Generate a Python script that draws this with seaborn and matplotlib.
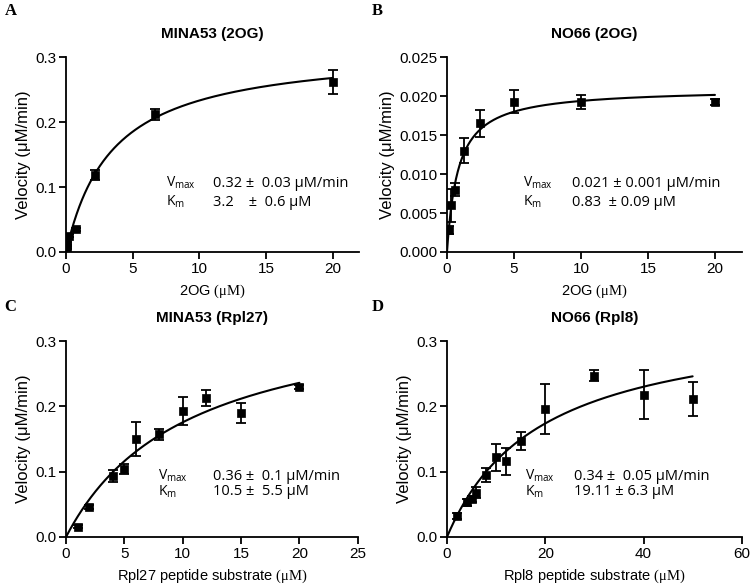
import numpy as np
import pandas as pd
import seaborn as sns
import matplotlib.pyplot as plt

# panel A: MINA53 with 2OG
a_x = [0.04, 0.08, 0.25, 0.75, 2.2, 6.67, 20]
a_y = [0.008, 0.012, 0.025, 0.035, 0.119, 0.212, 0.262]
a_err = [0.003, 0.003, 0.002, 0.002, 0.008, 0.008, 0.018]
a_fit = (0.315, 3.5)

# panel B: NO66 with 2OG
b_x = [0.16, 0.31, 0.625, 1.25, 2.5, 5, 10, 20]
b_y = [0.0028, 0.006, 0.008, 0.013, 0.0165, 0.0193, 0.0193, 0.0193]
b_err = [0.0005, 0.0021, 0.0008, 0.0016, 0.0017, 0.0015, 0.0009, 0.0004]
b_fit = (0.021, 0.83)

# panel C: MINA53 with Rpl27 peptide
c_x = [1, 2, 4, 5, 6, 8, 10, 12, 15, 20]
c_y = [0.016, 0.046, 0.093, 0.104, 0.150, 0.157, 0.193, 0.213, 0.190, 0.230]
c_err = [0.002, 0.003, 0.009, 0.008, 0.026, 0.009, 0.022, 0.012, 0.015, 0.003]
c_fit = (0.36, 10.5)

# panel D: NO66 with Rpl8 peptide
d_x = [2, 4, 5, 6, 8, 10, 12, 15, 20, 30, 40, 50]
d_y = [0.032, 0.053, 0.058, 0.068, 0.095, 0.122, 0.116, 0.147, 0.196, 0.247, 0.218, 0.212]
d_err = [0.004, 0.005, 0.004, 0.009, 0.011, 0.021, 0.021, 0.0135, 0.038, 0.008, 0.037, 0.026]
d_fit = (0.34, 19.11)

sns.set_style("ticks")
plt.rcParams['font.family'] = ['Liberation Sans', 'DejaVu Sans']
plt.rcParams['mathtext.fontset'] = 'custom'
plt.rcParams['mathtext.rm'] = 'Liberation Serif'
plt.rcParams['mathtext.sf'] = 'Open Sans'
for k in ['text.color', 'axes.labelcolor', 'xtick.color', 'ytick.color']:
    plt.rcParams[k] = 'black'

fig = plt.figure(figsize=(7.5, 5.84), dpi=100)
ax_a = fig.add_axes([0.088, 0.5685, 0.391, 0.3335])
ax_b = fig.add_axes([0.596, 0.5685, 0.393, 0.3335])
ax_c = fig.add_axes([0.088, 0.0805, 0.389, 0.3355])
ax_d = fig.add_axes([0.596, 0.0805, 0.393, 0.3355])

panels = [
    (ax_a, a_x, a_y, a_err, a_fit, 20, "MINA53 (2OG)", "2OG ", (0, 22), [0, 5, 10, 15, 20],
     (0, 0.3), [0, 0.1, 0.2, 0.3], "{:.1f}",
     ("0.32 ±  0.03 μM/min", "3.2    ±  0.6 μM"), 0.341, 0.502, 0.354, 0.256),
    (ax_b, b_x, b_y, b_err, b_fit, 20, "NO66 (2OG)", "2OG ", (0, 22), [0, 5, 10, 15, 20],
     (0, 0.025), [0, 0.005, 0.01, 0.015, 0.02, 0.025], "{:.3f}",
     ("0.021 ± 0.001 μM/min", "0.83  ± 0.09 μM"), 0.258, 0.424, 0.354, 0.256),
    (ax_c, c_x, c_y, c_err, c_fit, 20, "MINA53 (Rpl27)", "Rpl27 peptide substrate ", (0, 25),
     [0, 5, 10, 15, 20, 25], (0, 0.3), [0, 0.1, 0.2, 0.3], "{:.1f}",
     ("0.36 ±  0.1 μM/min", "10.5 ±  5.5 μM"), 0.315, 0.503, 0.311, 0.230),
    (ax_d, d_x, d_y, d_err, d_fit, 50, "NO66 (Rpl8)", "Rpl8 peptide substrate ", (0, 60),
     [0, 20, 40, 60], (0, 0.3), [0, 0.1, 0.2, 0.3], "{:.1f}",
     ("0.34 ±  0.05 μM/min", "19.11 ± 6.3 μM"), 0.264, 0.431, 0.311, 0.230),
]

for (ax, xs, ys, errs, fit, xend, title, xlab, xlim, xticks, ylim, yticks, yfmt,
     vals, vx, valx, vy, ky) in panels:
    vmax, km = fit
    s = np.linspace(0, xend, 300)
    curve = pd.DataFrame({"s": s, "v": vmax * s / (km + s)})
    sns.lineplot(data=curve, x="s", y="v", ax=ax, color="black", linewidth=1.5)
    ax.errorbar(xs, ys, yerr=errs, fmt="none", ecolor="black", elinewidth=1.3,
                capsize=3.5, capthick=1.3, zorder=3)
    pts = pd.DataFrame({"s": xs, "v": ys})
    sns.scatterplot(data=pts, x="s", y="v", ax=ax, marker="s", color="black",
                    s=30, edgecolor="black", linewidth=0.5, zorder=4)

    ax.set_xlim(*xlim)
    ax.set_ylim(*ylim)
    ax.set_xticks(xticks)
    ax.set_yticks(yticks)
    ax.set_yticklabels([yfmt.format(t) for t in yticks])
    ax.set_xticklabels([str(t) for t in xticks])
    ax.tick_params(labelsize=11, length=5, width=1.3, color="black", pad=2)
    for sp in ["left", "bottom"]:
        ax.spines[sp].set_linewidth(1.3)
        ax.spines[sp].set_color("black")
    sns.despine(ax=ax)

    ax.set_title(title, fontsize=11, fontweight="bold", pad=14)
    ax.set_xlabel(xlab + "$\\mathrm{(μM)}$", fontsize=10.5, labelpad=5)
    ax.set_ylabel("Velocity (μM/min)", fontsize=12, labelpad=3)

    ax.text(vx, vy, "V$_{\\mathsf{max}}$", transform=ax.transAxes, fontsize=10,
            family="Open Sans", va="center")
    ax.text(vx, ky, "K$_{\\mathsf{m}}$", transform=ax.transAxes, fontsize=10,
            family="Open Sans", va="center")
    ax.text(valx, vy, vals[0], transform=ax.transAxes, fontsize=10.5,
            family="Open Sans", va="center")
    ax.text(valx, ky, vals[1], transform=ax.transAxes, fontsize=10.5,
            family="Open Sans", va="center")

fig.text(0.006, 0.982, "A", fontsize=12, fontweight="bold", family="Liberation Serif", va="center")
fig.text(0.496, 0.982, "B", fontsize=12, fontweight="bold", family="Liberation Serif", va="center")
fig.text(0.006, 0.475, "C", fontsize=12, fontweight="bold", family="Liberation Serif", va="center")
fig.text(0.496, 0.475, "D", fontsize=12, fontweight="bold", family="Liberation Serif", va="center")

plt.savefig("out.png", dpi=100)
